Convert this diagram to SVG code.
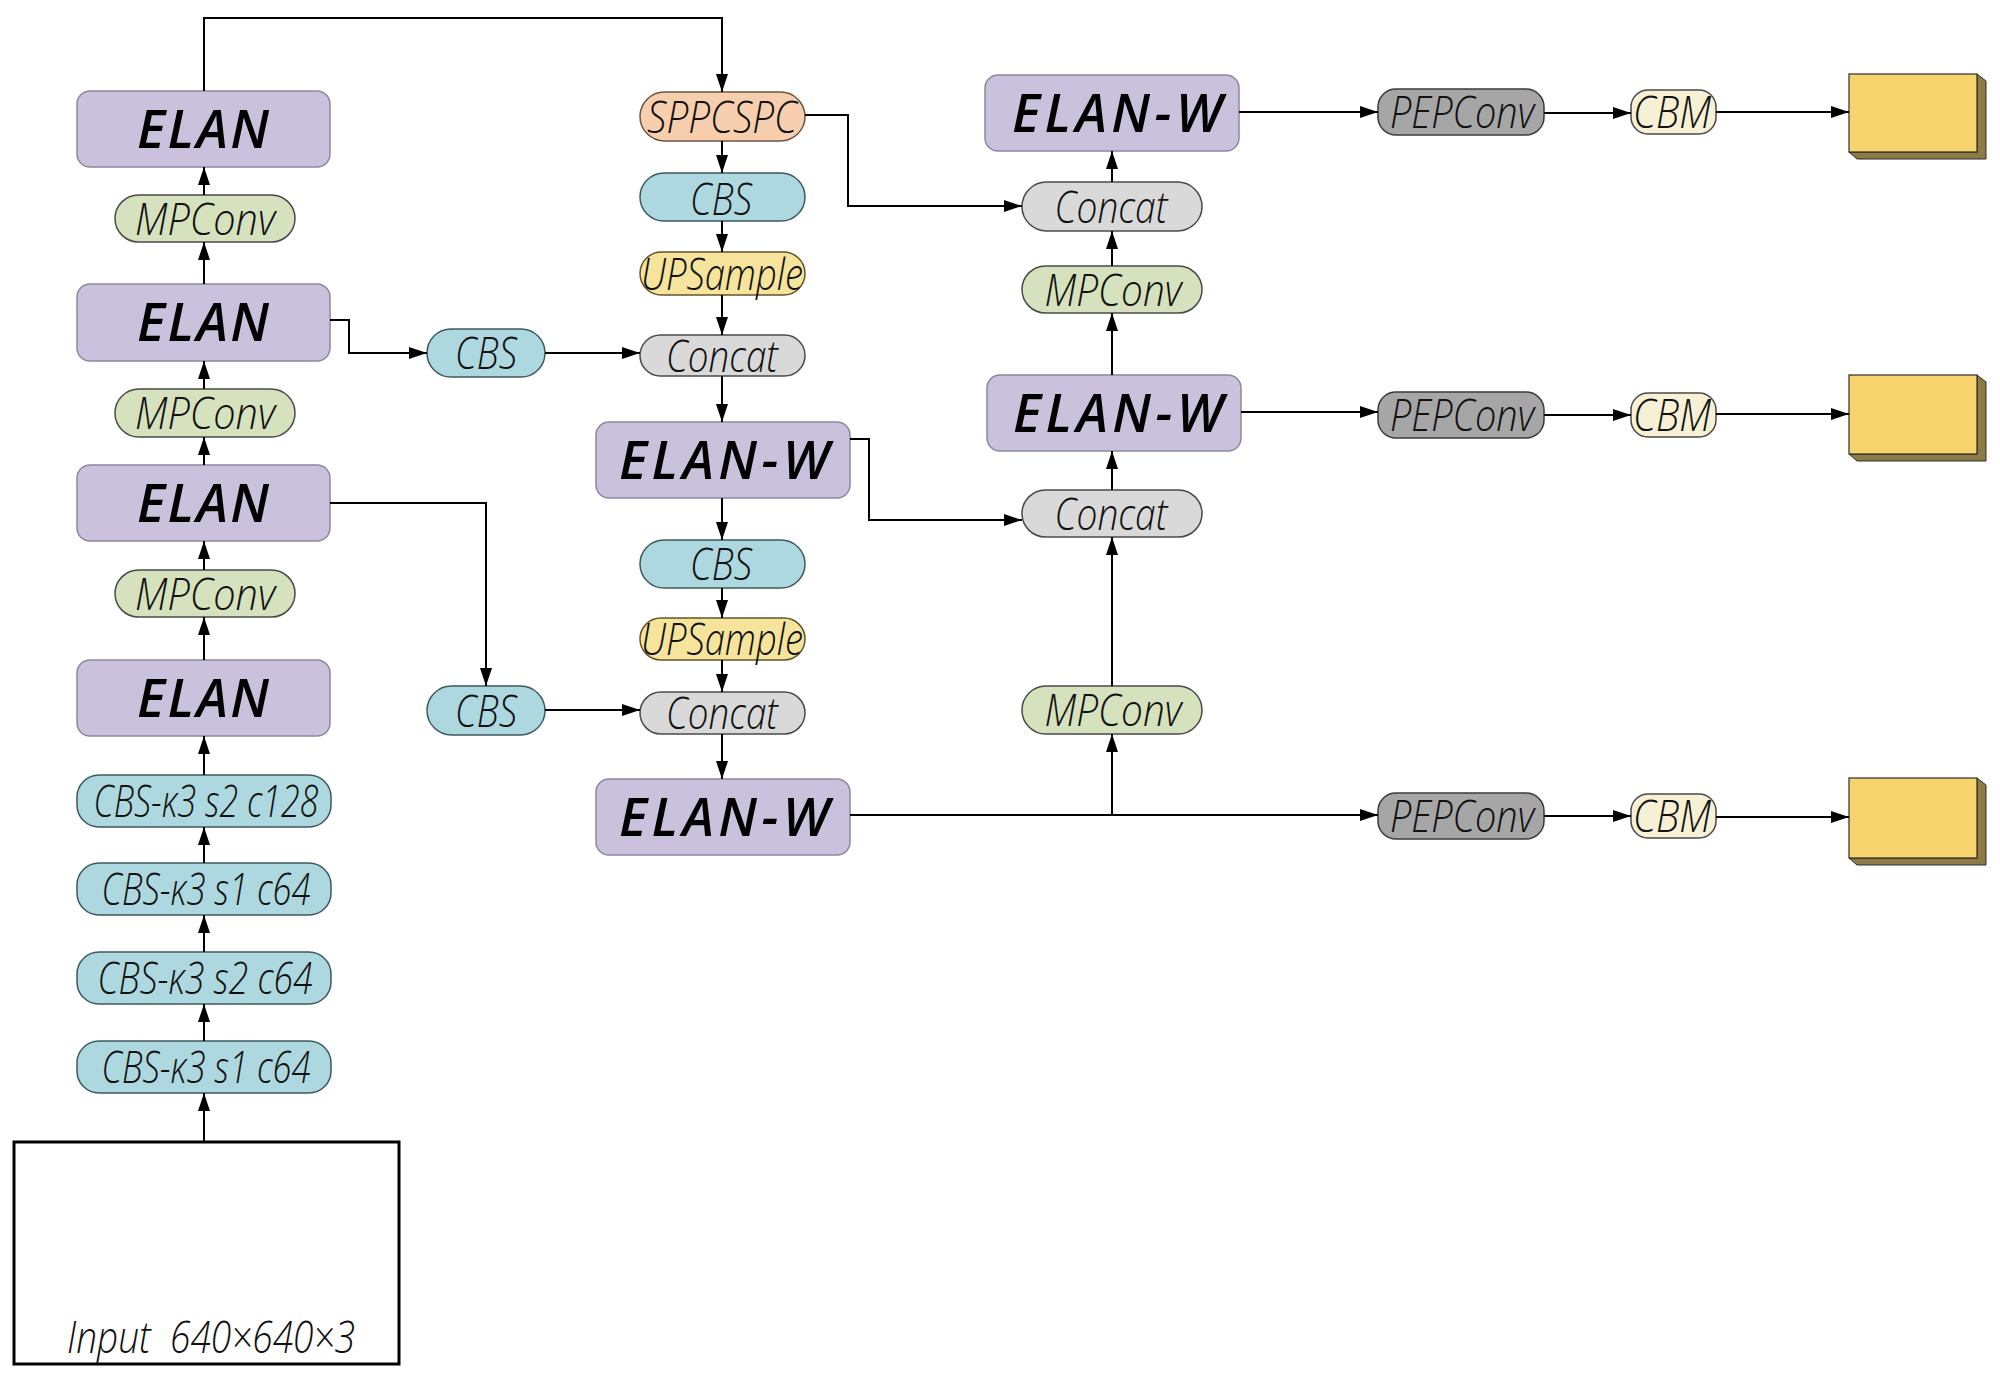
<svg xmlns="http://www.w3.org/2000/svg" width="2000" height="1378" viewBox="0 0 2000 1378">
<defs>
<marker id="arr" viewBox="0 0 18 12" refX="18" refY="6" markerWidth="18" markerHeight="12" markerUnits="userSpaceOnUse" orient="auto">
<path d="M0,0 L18,6 L0,12 Z" fill="#000"/>
</marker>
</defs>
<style>
.elan{fill:#cac2dc;stroke:#8d889e;stroke-width:1.5}
.mp{fill:#d6e1bd;stroke:#4a4a4a;stroke-width:1.5}
.cbs{fill:#aed8df;stroke:#3e5a60;stroke-width:1.5}
.spp{fill:#f8cfae;stroke:#6e5445;stroke-width:1.5}
.ups{fill:#f6e39c;stroke:#615528;stroke-width:1.5}
.cat{fill:#d9d9d9;stroke:#4a4a4a;stroke-width:1.5}
.pep{fill:#a6a6a6;stroke:#3a3a3a;stroke-width:1.5}
.cbm{fill:#f6f0d4;stroke:#4a4a4a;stroke-width:1.5}
.yb{fill:#f6d36c;stroke:#2e2e2e;stroke-width:1.2}
.ys{fill:#8c7b45;stroke:#2e2e2e;stroke-width:1}
.inp{fill:#fff;stroke:#000;stroke-width:3}
.big{font-family:"Open Sans","DejaVu Sans",sans-serif;font-style:italic;font-weight:600;font-size:53px;fill:#000;text-anchor:middle}
.lbl{font-family:"Open Sans","DejaVu Sans",sans-serif;font-style:italic;font-weight:300;font-size:45px;fill:#111;text-anchor:middle}
.ln{fill:none;stroke:#000;stroke-width:2}
.la{fill:none;stroke:#000;stroke-width:2;marker-end:url(#arr)}
</style>

<!-- Left backbone -->
<g id="elan1"><rect class="elan" x="77" y="91" width="253" height="76" rx="13"/><text class="big" x="203" y="148" textLength="132" lengthAdjust="spacing">ELAN</text></g>
<g id="mpconv1"><rect class="mp" x="115" y="195" width="180" height="47" rx="23.5"/><text class="lbl" x="205" y="234.5" textLength="140" lengthAdjust="spacingAndGlyphs">MPConv</text></g>
<g id="elan2"><rect class="elan" x="77" y="284" width="253" height="77" rx="13"/><text class="big" x="203" y="341" textLength="132" lengthAdjust="spacing">ELAN</text></g>
<g id="mpconv2"><rect class="mp" x="115" y="389" width="180" height="48" rx="24"/><text class="lbl" x="205" y="429" textLength="140" lengthAdjust="spacingAndGlyphs">MPConv</text></g>
<g id="elan3"><rect class="elan" x="77" y="465" width="253" height="76" rx="13"/><text class="big" x="203" y="522" textLength="132" lengthAdjust="spacing">ELAN</text></g>
<g id="mpconv3"><rect class="mp" x="115" y="570" width="180" height="47" rx="23.5"/><text class="lbl" x="205" y="609.5" textLength="140" lengthAdjust="spacingAndGlyphs">MPConv</text></g>
<g id="elan4"><rect class="elan" x="77" y="660" width="253" height="76" rx="13"/><text class="big" x="203" y="717" textLength="132" lengthAdjust="spacing">ELAN</text></g>
<g id="cbs128"><rect class="cbs" x="77" y="775" width="254" height="52" rx="22"/><text class="lbl" x="206" y="817" textLength="225" lengthAdjust="spacingAndGlyphs">CBS-κ3 s2 c128</text></g>
<g id="cbs64a"><rect class="cbs" x="77" y="863" width="254" height="52" rx="22"/><text class="lbl" x="206" y="905" textLength="209" lengthAdjust="spacingAndGlyphs">CBS-κ3 s1 c64</text></g>
<g id="cbs64b"><rect class="cbs" x="77" y="952" width="254" height="52" rx="22"/><text class="lbl" x="205" y="994" textLength="215" lengthAdjust="spacingAndGlyphs">CBS-κ3 s2 c64</text></g>
<g id="cbs64c"><rect class="cbs" x="77" y="1041" width="254" height="52" rx="22"/><text class="lbl" x="206" y="1083" textLength="209" lengthAdjust="spacingAndGlyphs">CBS-κ3 s1 c64</text></g>
<g id="input"><rect class="inp" x="14" y="1142" width="385" height="222"/><text class="lbl" x="211" y="1353" textLength="288" lengthAdjust="spacingAndGlyphs" xml:space="preserve">Input  640×640×3</text></g>

<!-- Side CBS -->
<g id="cbs_side1"><rect class="cbs" x="427" y="329" width="118" height="48" rx="24"/><text class="lbl" x="486" y="369" textLength="62" lengthAdjust="spacingAndGlyphs">CBS</text></g>
<g id="cbs_side2"><rect class="cbs" x="427" y="686" width="118" height="49" rx="24.5"/><text class="lbl" x="486" y="726.5" textLength="62" lengthAdjust="spacingAndGlyphs">CBS</text></g>

<!-- Middle column -->
<g id="sppcspc"><rect class="spp" x="640" y="92" width="165" height="49" rx="24.5"/><text class="lbl" x="722" y="132.5" textLength="150" lengthAdjust="spacingAndGlyphs">SPPCSPC</text></g>
<g id="cbs_m1"><rect class="cbs" x="640" y="173" width="165" height="48" rx="24"/><text class="lbl" x="721" y="214.5" textLength="62" lengthAdjust="spacingAndGlyphs">CBS</text></g>
<g id="ups1"><rect class="ups" x="640" y="252" width="165" height="43" rx="21.5"/><text class="lbl" x="722" y="289.5" textLength="162" lengthAdjust="spacingAndGlyphs">UPSample</text></g>
<g id="concat_m1"><rect class="cat" x="640" y="335" width="165" height="41" rx="20.5"/><text class="lbl" x="722" y="371.5" textLength="112" lengthAdjust="spacingAndGlyphs">Concat</text></g>
<g id="elanw_m1"><rect class="elan" x="596" y="422" width="254" height="76" rx="13"/><text class="big" x="724" y="479" textLength="210" lengthAdjust="spacing">ELAN-W</text></g>
<g id="cbs_m2"><rect class="cbs" x="640" y="540" width="165" height="48" rx="24"/><text class="lbl" x="721" y="580" textLength="62" lengthAdjust="spacingAndGlyphs">CBS</text></g>
<g id="ups2"><rect class="ups" x="640" y="618" width="165" height="42" rx="21"/><text class="lbl" x="722" y="655" textLength="162" lengthAdjust="spacingAndGlyphs">UPSample</text></g>
<g id="concat_m2"><rect class="cat" x="640" y="692" width="165" height="42" rx="21"/><text class="lbl" x="722" y="729" textLength="112" lengthAdjust="spacingAndGlyphs">Concat</text></g>
<g id="elanw_m2"><rect class="elan" x="596" y="779" width="254" height="76" rx="13"/><text class="big" x="724" y="836" textLength="210" lengthAdjust="spacing">ELAN-W</text></g>

<!-- Right column -->
<g id="elanw_r1"><rect class="elan" x="985" y="75" width="254" height="76" rx="13"/><text class="big" x="1117" y="132" textLength="210" lengthAdjust="spacing">ELAN-W</text></g>
<g id="concat_r1"><rect class="cat" x="1022" y="182" width="180" height="49" rx="24.5"/><text class="lbl" x="1111" y="222.5" textLength="113" lengthAdjust="spacingAndGlyphs">Concat</text></g>
<g id="mpconv_r1"><rect class="mp" x="1022" y="266" width="180" height="47" rx="23.5"/><text class="lbl" x="1113" y="305.5" textLength="137" lengthAdjust="spacingAndGlyphs">MPConv</text></g>
<g id="elanw_r2"><rect class="elan" x="987" y="375" width="254" height="76" rx="13"/><text class="big" x="1118" y="432" textLength="210" lengthAdjust="spacing">ELAN-W</text></g>
<g id="concat_r2"><rect class="cat" x="1022" y="490" width="180" height="47" rx="23.5"/><text class="lbl" x="1111" y="529.5" textLength="113" lengthAdjust="spacingAndGlyphs">Concat</text></g>
<g id="mpconv_r2"><rect class="mp" x="1022" y="686" width="180" height="48" rx="24"/><text class="lbl" x="1113" y="726" textLength="137" lengthAdjust="spacingAndGlyphs">MPConv</text></g>

<!-- Heads -->
<g id="pep1"><rect class="pep" x="1378" y="89" width="166" height="46" rx="18"/><text class="lbl" x="1462" y="128" textLength="144" lengthAdjust="spacingAndGlyphs">PEPConv</text></g>
<g id="cbm1"><rect class="cbm" x="1631" y="90" width="85" height="44" rx="17"/><text class="lbl" x="1672" y="128" textLength="78" lengthAdjust="spacingAndGlyphs">CBM</text></g>
<g id="out1"><path class="ys" d="M1977,74 L1986,81 L1986,159 L1857,159 L1849,152 L1977,152 Z"/><rect class="yb" x="1849" y="74" width="128" height="78"/></g>

<g id="pep2"><rect class="pep" x="1378" y="392" width="166" height="46" rx="18"/><text class="lbl" x="1462" y="431" textLength="144" lengthAdjust="spacingAndGlyphs">PEPConv</text></g>
<g id="cbm2"><rect class="cbm" x="1631" y="393" width="85" height="44" rx="17"/><text class="lbl" x="1672" y="431" textLength="78" lengthAdjust="spacingAndGlyphs">CBM</text></g>
<g id="out2"><path class="ys" d="M1977,375 L1986,382 L1986,461 L1857,461 L1849,454 L1977,454 Z"/><rect class="yb" x="1849" y="375" width="128" height="79"/></g>

<g id="pep3"><rect class="pep" x="1378" y="793" width="166" height="46" rx="18"/><text class="lbl" x="1462" y="832" textLength="144" lengthAdjust="spacingAndGlyphs">PEPConv</text></g>
<g id="cbm3"><rect class="cbm" x="1631" y="794" width="85" height="44" rx="17"/><text class="lbl" x="1672" y="832" textLength="78" lengthAdjust="spacingAndGlyphs">CBM</text></g>
<g id="out3"><path class="ys" d="M1977,778 L1986,785 L1986,865 L1857,865 L1849,858 L1977,858 Z"/><rect class="yb" x="1849" y="778" width="128" height="80"/></g>

<!-- Connectors -->
<g id="connectors">
<path class="la" d="M204,91 V18 H722 V92"/>
<path class="la" d="M204,195 V167"/>
<path class="la" d="M204,284 V242"/>
<path class="la" d="M204,389 V361"/>
<path class="la" d="M204,465 V437"/>
<path class="la" d="M204,570 V541"/>
<path class="la" d="M204,660 V617"/>
<path class="la" d="M204,775 V736"/>
<path class="la" d="M204,863 V827"/>
<path class="la" d="M204,952 V915"/>
<path class="la" d="M204,1041 V1004"/>
<path class="la" d="M204,1142 V1093"/>

<path class="la" d="M330,320 H349 V353 H427"/>
<path class="la" d="M545,353 H640"/>
<path class="la" d="M330,503 H486 V686"/>
<path class="la" d="M545,710 H640"/>

<path class="la" d="M722,141 V173"/>
<path class="la" d="M722,221 V252"/>
<path class="la" d="M722,295 V335"/>
<path class="la" d="M722,376 V422"/>
<path class="la" d="M722,498 V540"/>
<path class="la" d="M722,588 V618"/>
<path class="la" d="M722,660 V692"/>
<path class="la" d="M722,734 V779"/>

<path class="la" d="M805,115 H848 V206 H1022"/>
<path class="la" d="M850,439 H869 V520 H1022"/>
<path class="la" d="M850,815 H1378"/>
<path class="la" d="M1112,815 V734"/>
<path class="la" d="M1112,686 V537"/>
<path class="la" d="M1112,490 V451"/>
<path class="la" d="M1112,375 V313"/>
<path class="la" d="M1112,266 V231"/>
<path class="la" d="M1112,182 V151"/>

<path class="la" d="M1239,112 H1378"/>
<path class="la" d="M1544,113 H1631"/>
<path class="la" d="M1716,112 H1849"/>
<path class="la" d="M1241,412 H1378"/>
<path class="la" d="M1544,415 H1631"/>
<path class="la" d="M1716,414 H1849"/>
<path class="la" d="M1544,816 H1631"/>
<path class="la" d="M1716,817 H1849"/>
</g>
</svg>
